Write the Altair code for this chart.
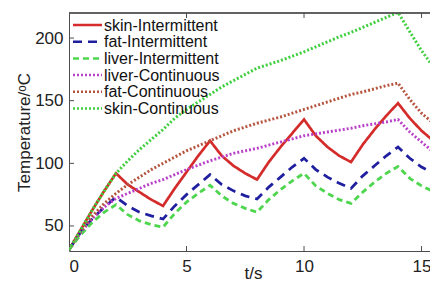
import altair as alt
import pandas as pd

# time axis (s)
t = [0, 0.5, 1, 1.5, 2, 2.5, 3, 3.5, 4, 4.5, 5, 5.5, 6, 6.5, 7, 7.5, 8,
     8.5, 9, 9.5, 10, 10.5, 11, 11.5, 12, 12.5, 13, 13.5, 14, 14.5, 15, 15.5]

skin_int = [31, 47, 63, 78, 92, 83, 77, 71, 66, 80, 93, 106, 118, 106, 98, 92, 87,
            101, 113, 124, 135, 122, 113, 106, 101, 115, 127, 138, 148, 136, 126, 118]
fat_int = [31, 45, 56, 65, 73, 66, 61, 58, 55.5, 66, 75, 83, 91, 83, 78, 74, 71.5,
           81, 89, 97, 104, 95, 89, 84, 80, 90, 98, 106, 113, 104, 97, 92]
liver_int = [31, 43, 53, 61, 67, 59, 54, 51, 49, 60, 69, 76, 82.5, 74, 68, 64, 61,
             71, 79, 86, 92, 82, 76, 71, 68, 77, 85, 92, 97.5, 88, 82, 77.5]
liver_cont = [31, 45, 56, 65, 72, 76, 80, 84, 87, 91, 95, 98.5, 102, 105, 108, 110, 112,
              114.5, 117, 119.5, 122, 123.5, 125, 126.5, 128, 130, 131.5, 133, 135, 125, 117, 109]
fat_cont = [31, 46, 58, 68, 76, 83, 89, 95, 100, 105, 110, 114, 118, 122, 126, 129, 132,
            134.5, 137, 140, 143, 146, 149, 152, 155, 157, 159.5, 162, 164, 151, 140, 132]
skin_cont = [31, 47, 63, 78, 92, 102, 111, 119, 127, 136, 143, 149, 155, 161, 166, 171, 176,
             179, 182, 185.5, 189, 193, 197, 201, 204.5, 208.5, 212.5, 216.5, 220.5, 205, 190, 177]

series_names = ["skin-Intermittent", "fat-Intermittent", "liver-Intermittent",
                "liver-Continuous", "fat-Continuous", "skin-Continuous"]
series_values = [skin_int, fat_int, liver_int, liver_cont, fat_cont, skin_cont]
colors = ["#d42b2b", "#1f1fa0", "#4fd64f", "#b940c9", "#b5553f", "#3fcf3f"]
dashes = [[1, 0], [9, 6], [6, 4], [2, 2], [2, 2], [2, 2]]
widths = [2.7, 3, 3, 2.5, 2.5, 2.5]

x_ticks = [0, 5, 10, 15]
y_ticks = [50, 100, 150, 200]

rows = []
for name, vals in zip(series_names, series_values):
    for ti, v in zip(t, vals):
        rows.append({"t": ti, "T": v, "series": name})
df = pd.DataFrame(rows)

W, H = 361, 238
XMAX = 15.36
FONT = "Liberation Sans"
AX = "#4d4d4d"
FS = 17
LFS = 16

xscale = alt.Scale(domain=[0, XMAX], nice=False, zero=False)
yscale = alt.Scale(domain=[30, 220], nice=False, zero=False)

lines = alt.Chart(df).mark_line(clip=True).encode(
    x=alt.X("t:Q", scale=xscale,
            axis=alt.Axis(values=x_ticks, title="t/s", titleFontSize=FS, titleFont=FONT,
                          titleFontWeight="normal", titleColor="#222",
                          titleX=184, titleY=27, titleBaseline="alphabetic")),
    y=alt.Y("T:Q", scale=yscale,
            axis=alt.Axis(values=y_ticks, title="Temperature/ᵒC", titleFontSize=FS, titleFont=FONT,
                          titleFontWeight="normal", titleColor="#222",
                          titleX=-45, titleBaseline="middle", titleAngle=-90)),
    color=alt.Color("series:N", scale=alt.Scale(domain=series_names, range=colors),
                    sort=series_names, legend=None),
    strokeDash=alt.StrokeDash("series:N", scale=alt.Scale(domain=series_names, range=dashes),
                              sort=series_names, legend=None),
    strokeWidth=alt.StrokeWidth("series:N", scale=alt.Scale(domain=series_names, range=widths),
                                legend=None),
    order=alt.Order("t:Q"),
)

# hand-built legend (top-left inside the frame)
legend_layers = []
ROW0, ROWSTEP = 12, 16.7
for i, name in enumerate(series_names):
    ly = ROW0 + i * ROWSTEP
    ldf = pd.DataFrame({"series": [name]})
    legend_layers.append(
        alt.Chart(ldf).mark_rule(color=colors[i], strokeDash=dashes[i],
                                 strokeWidth=min(widths[i], 2.5)).encode(
            x=alt.value(4), x2=alt.value(33), y=alt.value(ly)))
    legend_layers.append(
        alt.Chart(ldf).mark_text(align="left", baseline="middle", fontSize=LFS, font=FONT,
                                 color="#111").encode(
            x=alt.value(35), y=alt.value(ly + 0.5), text="series:N"))

xt = pd.DataFrame({"t": x_ticks[1:]})
yt = pd.DataFrame({"T": y_ticks})

bottom_ticks = alt.Chart(xt).mark_rule(color=AX, strokeWidth=1).encode(
    x="t:Q", y=alt.value(H), y2=alt.value(H - 5))
top_ticks = alt.Chart(xt).mark_rule(color=AX, strokeWidth=1).encode(
    x="t:Q", y=alt.value(0), y2=alt.value(5))
left_ticks = alt.Chart(yt).mark_rule(color=AX, strokeWidth=1).encode(
    y="T:Q", x=alt.value(0), x2=alt.value(5))
top_line = alt.Chart(xt).mark_rule(color=AX, strokeWidth=1).encode(
    x=alt.value(0), x2=alt.value(W), y=alt.value(0))

chart = alt.layer(lines, bottom_ticks, top_ticks, left_ticks, top_line, *legend_layers).properties(
    width=W, height=H,
    autosize=alt.AutoSizeParams(type="none"),
    padding={"left": 61, "top": 5, "right": 0, "bottom": 32},
).configure_view(stroke=None).configure_axis(
    grid=False, tickSize=0, domainColor=AX, domainWidth=1,
    labelFontSize=FS, labelFont=FONT, labelColor="#222",
).configure_axisX(labelPadding=7).configure_axisY(labelPadding=6)

chart.save("out.html", embed_options={"renderer": "svg", "actions": False})
